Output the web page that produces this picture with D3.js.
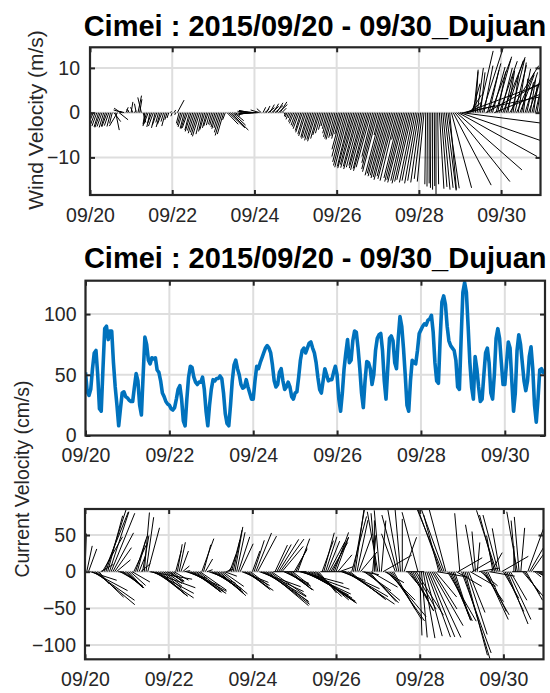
<!DOCTYPE html>
<html>
<head>
<meta charset="utf-8">
<script src="https://cdn.jsdelivr.net/npm/d3@7"></script>
<style>
  body { margin: 0; background: #fff; }
  text { font-family: "Liberation Sans", Arial, Helvetica, sans-serif; }
</style>
</head>
<body>
<svg id="fig" width="550" height="693"></svg>
<script>
// ---- Data -----------------------------------------------------------------
const titleText = "Cimei : 2015/09/20 - 09/30_Dujuan";
const startTime = new Date(2015, 8, 20, 0, 0);   // hourly records from 2015/09/20 00:00
const tickLabels = ["09/20", "09/22", "09/24", "09/26", "09/28", "09/30"];
const windTicks = [-10, 0, 10];
const speedTicks = [0, 50, 100];
const stickTicks = [-100, -50, 0, 50];

// Hourly wind components (m/s), one row per day
const windU = [
  -0.3,-0.6,-0.8,-1.0,-1.1,-1.0,-1.2,-1.1,-1.0,-0.9,-1.2,-1.0,-0.8,-0.6,1.5,0.8,-1.8,2.0,-1.5,-2.0,-1.0,0.5,0.2,-0.6,
  0.4,-0.5,0.3,-0.4,0.8,0.5,-0.8,0.6,-0.4,-0.8,-1.0,-0.7,-0.9,-1.1,-0.8,-1.0,-0.6,-0.9,-1.0,-0.6,-0.8,-0.5,-0.4,0.2,
  -0.3,0.4,-0.2,1.5,-0.6,-0.8,-1.0,-0.9,-1.1,-1.2,-1.0,-1.3,-1.2,-1.4,-1.3,-1.5,-1.6,-1.2,-1.0,-1.1,-0.9,-1.0,-0.8,-0.7,
  -0.8,-0.9,-1.1,-1.0,-1.3,-1.5,-1.4,-0.6,2.5,3.6,4.0,3.0,2.2,1.0,-0.5,-0.3,-0.6,-0.9,-1.2,-1.5,-1.9,-2.3,-2.6,-3.0,
  -3.4,-3.8,-4.1,-2.0,-1.0,0.6,1.0,0.8,1.4,1.0,1.6,1.2,1.8,1.4,2.0,1.5,1.0,0.5,-0.2,-0.4,-0.6,-0.5,-0.8,-1.0,
  -1.0,-1.1,-1.3,-1.2,-1.5,-1.4,-1.6,-1.5,-1.7,-1.6,-1.8,-1.7,-1.9,-1.6,-1.5,-1.3,-1.0,-0.8,-0.9,-1.2,-1.4,-1.5,-1.6,-1.4,
  -1.3,-1.5,-1.2,-2.2,-2.6,-2.8,-3.0,-3.1,-2.9,-3.2,-3.0,-3.3,-3.1,-3.4,-3.2,-3.0,-3.3,-3.4,-3.2,-3.5,-3.3,-2.4,-2.8,-3.2,
  -3.4,-1.2,-3.6,-3.5,-3.7,-3.6,-3.8,-3.7,-3.9,-3.6,-3.8,-3.7,-1.5,-3.6,-3.8,-3.7,-3.9,-3.6,-3.7,-3.5,-3.4,-3.2,-3.0,-2.8,
  -2.5,-2.2,-1.8,-1.5,-0.2,-0.1,0.0,-0.1,0.0,0.1,0.0,0.2,1.0,1.3,1.6,1.9,2.2,2.5,1.5,4.5,8.5,12.3,14.6,17.6,
  18.5,19.0,18.5,17.0,6.0,3.0,2.5,1.8,1.0,0.6,1.4,3.2,1.0,5.0,2.0,16.0,3.0,2.2,4.5,2.8,15.0,3.5,1.8,4.0,
  2.5,5.0,2.0,3.8,1.5,6.5,3.0,1.2,2.6,4.0,1.8,3.2,2.0,1.0,2.8,1.5,3.0,1.2,2.2,0.8,1.8,1.0,2.4,1.4
];
const windV = [
  -1.2,-2.0,-1.8,-2.6,-3.0,-3.2,-3.3,-3.1,-3.3,-3.0,-3.2,-2.9,-3.1,-2.4,-2.0,-3.9,-3.0,-1.6,1.0,0.6,0.3,1.2,0.5,0.8,
  2.4,1.2,0.5,2.0,3.8,3.0,3.4,-2.2,-2.6,-3.0,-2.6,-3.2,-2.4,-3.0,-3.4,-2.8,-2.2,-3.2,-2.6,-2.0,-3.0,-1.6,-1.2,0.3,
  -0.8,0.6,-0.5,2.8,-2.4,-2.8,-3.2,-3.5,-3.6,-3.4,-3.9,-4.2,-4.0,-4.6,-4.4,-5.0,-5.3,-4.8,-4.2,-3.8,-3.4,-3.0,-2.8,-2.6,
  -2.8,-3.2,-3.6,-3.4,-4.4,-5.1,-4.8,-1.6,-2.6,-3.4,-3.9,-2.8,-1.8,-0.8,-0.6,0.4,-0.3,0.3,-0.4,0.3,-0.4,0.5,-0.3,0.4,
  -0.3,0.2,-0.2,0.6,0.9,1.2,0.8,1.5,1.1,1.8,1.4,2.0,1.6,2.2,1.8,2.4,1.0,-0.4,-0.8,-1.0,-1.5,-1.2,-2.0,-2.4,
  -2.8,-3.1,-3.6,-4.0,-4.4,-4.8,-5.2,-5.5,-5.8,-5.6,-6.2,-6.0,-6.4,-5.8,-5.0,-4.6,-3.8,-3.0,-3.6,-4.6,-5.4,-5.8,-6.0,-5.6,
  -5.2,-5.8,-4.8,-8.2,-9.8,-11.0,-11.8,-12.2,-12.0,-12.4,-11.6,-12.3,-12.0,-12.6,-12.2,-11.8,-12.4,-12.8,-12.5,-13.0,-12.2,-9.8,-11.2,-12.6,
  -13.2,-5.0,-14.0,-13.6,-14.2,-14.0,-14.6,-14.4,-15.0,-14.2,-14.8,-15.2,-6.0,-14.6,-15.4,-15.0,-15.6,-15.2,-15.8,-15.4,-15.0,-15.6,-15.2,-15.8,
  -15.2,-15.6,-14.8,-15.4,-16.0,-16.5,-15.8,-16.8,-17.2,-16.4,-18.6,-16.0,-17.0,-16.6,-17.2,-16.8,-17.4,-16.9,-17.2,-16.8,-16.2,-15.4,-12.8,-9.8,
  -6.4,-2.5,3.8,6.4,1.5,2.4,4.0,6.5,9.6,9.2,10.0,13.8,9.0,15.5,10.5,8.6,11.0,9.5,12.0,10.2,6.0,12.5,9.2,11.5,
  10.0,12.4,8.8,11.6,9.4,10.5,12.0,8.2,10.6,9.0,11.2,8.5,9.8,7.6,9.0,6.8,8.2,7.4,9.0,6.2,7.8,6.5,8.6,7.2
];

// Hourly current speed (cm/s), one row per day
const currentSpeed = [
  52,36,33,38,55,68,70,50,22,20,55,88,90,79,86,86,60,40,25,8,22,35,36,32,
  31,29,28,28,40,51,45,25,17,50,81,75,62,59,64,63,64,54,52,45,35,32,28,26,
  25,22,21,23,30,38,41,30,12,8,30,48,57,56,48,44,42,44,44,48,38,20,8,25,
  38,46,45,47,47,49,47,35,18,10,8,25,45,58,62,55,50,42,39,40,46,40,35,30,
  30,45,57,55,60,64,68,72,74,72,68,58,45,40,42,52,55,45,38,40,44,40,32,30,
  35,36,48,62,70,72,68,72,76,77,72,68,60,48,38,35,45,55,50,45,46,46,52,57,
  50,30,20,35,55,68,79,60,62,78,86,85,72,55,35,23,45,61,60,55,42,50,70,80,
  83,84,70,45,30,55,80,82,78,60,55,80,98,90,72,50,25,20,45,62,60,59,70,84,
  87,90,92,91,95,96,99,85,60,45,43,80,110,115,108,90,78,74,72,70,62,40,38,80,
  118,126,118,90,60,40,30,65,55,40,28,30,50,68,72,60,35,30,50,80,88,80,60,42,
  42,60,77,72,45,20,35,70,83,75,60,45,37,45,65,73,55,25,11,30,54,55,52,53
];
// Hourly current direction (degrees clockwise from north, direction of flow)
const currentDir = [
  2,12,20,108,118,125,130,134,140,60,30,22,18,15,18,22,28,35,50,95,118,124,128,132,
  135,138,132,120,25,18,15,22,50,10,5,8,15,100,110,118,124,128,130,132,130,128,125,120,
  125,130,128,120,15,10,12,20,50,80,108,114,118,122,126,128,130,128,125,20,15,30,70,110,
  115,120,124,127,130,132,130,125,110,70,40,20,15,12,10,12,18,25,112,118,124,128,130,128,
  20,18,22,28,110,115,120,124,127,130,128,125,90,25,28,32,36,40,115,120,125,128,130,128,
  30,25,20,105,110,115,118,120,122,124,125,126,130,135,140,90,20,15,18,22,28,30,25,20,
  20,40,70,110,115,120,124,126,128,15,10,8,12,20,40,100,125,130,135,138,120,5,0,355,
  350,355,5,60,120,135,140,145,148,150,340,345,350,355,0,20,90,140,145,150,152,150,148,345,
  178,175,170,165,160,158,155,150,148,140,100,345,340,338,340,345,150,155,158,160,162,120,60,355,
  160,163,165,162,158,120,60,350,355,5,80,130,145,150,155,155,100,30,350,345,342,345,350,60,
  150,155,158,155,150,90,0,355,350,355,5,140,145,150,20,30,35,90,130,120,125,128,130,132
];

// ---- Derived series -------------------------------------------------------
const times = currentSpeed.map((_, i) => d3.timeHour.offset(startTime, i));
const tickDates = tickLabels.map(s => {
  const [m, d] = s.split("/").map(Number);
  return new Date(2015, m - 1, d);
});
const windData = windU.map((u, i) => ({ t: times[i], u, v: windV[i] }));
const speedData = currentSpeed.map((s, i) => ({ t: times[i], s }));
const currentData = currentSpeed.map((s, i) => {
  const a = currentDir[i] * Math.PI / 180;
  return { t: times[i], u: s * Math.sin(a), v: s * Math.cos(a) };
});

// ---- Drawing --------------------------------------------------------------
const svg = d3.select("#fig");
const axisColor = "#262626";
const gridColor = "#dedede";
const tickFont = 19.5;
let clipCount = 0;

function panel(box, yDomain, yTicks, drawMarks, opts = {}) {
  const x = d3.scaleTime().domain([times[0], times[times.length - 1]]).range([box.left, box.right]);
  const y = d3.scaleLinear().domain(yDomain).range([box.bottom, box.top]);
  const g = svg.append("g");

  // grid
  g.append("g").selectAll("line").data(tickDates).join("line")
    .attr("x1", d => x(d)).attr("x2", d => x(d))
    .attr("y1", box.top).attr("y2", box.bottom)
    .attr("stroke", gridColor).attr("stroke-width", 2);
  g.append("g").selectAll("line").data(yTicks).join("line")
    .attr("x1", box.left).attr("x2", box.right)
    .attr("y1", d => y(d)).attr("y2", d => y(d))
    .attr("stroke", gridColor).attr("stroke-width", 2);

  // data, clipped to the axes box
  const id = "clip" + (clipCount++);
  svg.append("clipPath").attr("id", id).append("rect")
    .attr("x", box.left).attr("y", box.top)
    .attr("width", box.right - box.left).attr("height", box.bottom - box.top);
  const marks = g.append("g").attr("clip-path", `url(#${id})`);
  drawMarks(marks, x, y);

  // axes with inward ticks on all four sides
  const styleAxis = sel => {
    sel.select(".domain").remove();
    sel.selectAll(".tick line").attr("stroke", axisColor).attr("stroke-width", 2);
    sel.selectAll(".tick text").attr("fill", axisColor)
      .attr("font-size", tickFont).attr("font-family", null);
  };
  g.append("g").attr("transform", `translate(0,${box.bottom})`)
    .call(d3.axisBottom(x).tickValues(tickDates).tickFormat((d, i) => tickLabels[i])
      .tickSizeInner(-5).tickSizeOuter(0).tickPadding(opts.xPad || 13))
    .call(styleAxis);
  g.append("g").attr("transform", `translate(0,${box.top})`)
    .call(d3.axisTop(x).tickValues(tickDates).tickFormat("").tickSizeInner(-5).tickSizeOuter(0))
    .call(styleAxis);
  g.append("g").attr("transform", `translate(${box.left},0)`)
    .call(d3.axisLeft(y).tickValues(yTicks).tickSizeInner(-5).tickSizeOuter(0).tickPadding(opts.yPad || 9))
    .call(styleAxis);
  g.append("g").attr("transform", `translate(${box.right},0)`)
    .call(d3.axisRight(y).tickValues(yTicks).tickFormat("").tickSizeInner(-5).tickSizeOuter(0))
    .call(styleAxis);

  // box
  g.append("rect")
    .attr("x", box.left).attr("y", box.top)
    .attr("width", box.right - box.left).attr("height", box.bottom - box.top)
    .attr("fill", "none").attr("stroke", axisColor).attr("stroke-width", 2.2);
  return { x, y };
}

// stick plot: each vector drawn from (t, 0) with its components at the y-axis scale
function sticks(data, width) {
  return (g, x, y) => {
    const k = Math.abs(y(1) - y(0));
    g.selectAll("line").data(data).join("line")
      .attr("x1", d => x(d.t)).attr("y1", y(0))
      .attr("x2", d => x(d.t) + d.u * k).attr("y2", d => y(d.v))
      .attr("stroke", "#000").attr("stroke-width", width);
  };
}

// Wind
panel({ left: 90, right: 540.5, top: 47.3, bottom: 195 }, [-18.4, 14.6], windTicks,
  sticks(windData, 1.0), { yPad: 10 });

// Current speed
panel({ left: 85.5, right: 545, top: 280.7, bottom: 435.5 }, [0, 127.5], speedTicks,
  (g, x, y) => {
    g.append("path").datum(speedData)
      .attr("d", d3.line().x(d => x(d.t)).y(d => y(d.s)))
      .attr("fill", "none").attr("stroke", "#0072BD")
      .attr("stroke-width", 3.6).attr("stroke-linejoin", "round");
  });

// Current vectors
panel({ left: 85, right: 543.5, top: 509, bottom: 659.3 }, [-119.5, 85.5], stickTicks,
  sticks(currentData, 1.0));

// Titles
[[315, 35.5], [315.2, 268]].forEach(([cx, by]) => {
  svg.append("text").attr("x", cx).attr("y", by)
    .attr("text-anchor", "middle").attr("font-weight", "bold")
    .attr("font-size", 29).attr("fill", "#000").text(titleText);
});

// Axis titles
svg.append("text")
  .attr("transform", "translate(43,120) rotate(-90)")
  .attr("text-anchor", "middle").attr("font-size", 21).attr("fill", axisColor)
  .text("Wind Velocity (m/s)");
svg.append("text")
  .attr("transform", "translate(29,479) rotate(-90)")
  .attr("text-anchor", "middle").attr("font-size", 19.5).attr("fill", axisColor)
  .text("Current Velocity (cm/s)");
</script>
</body>
</html>
